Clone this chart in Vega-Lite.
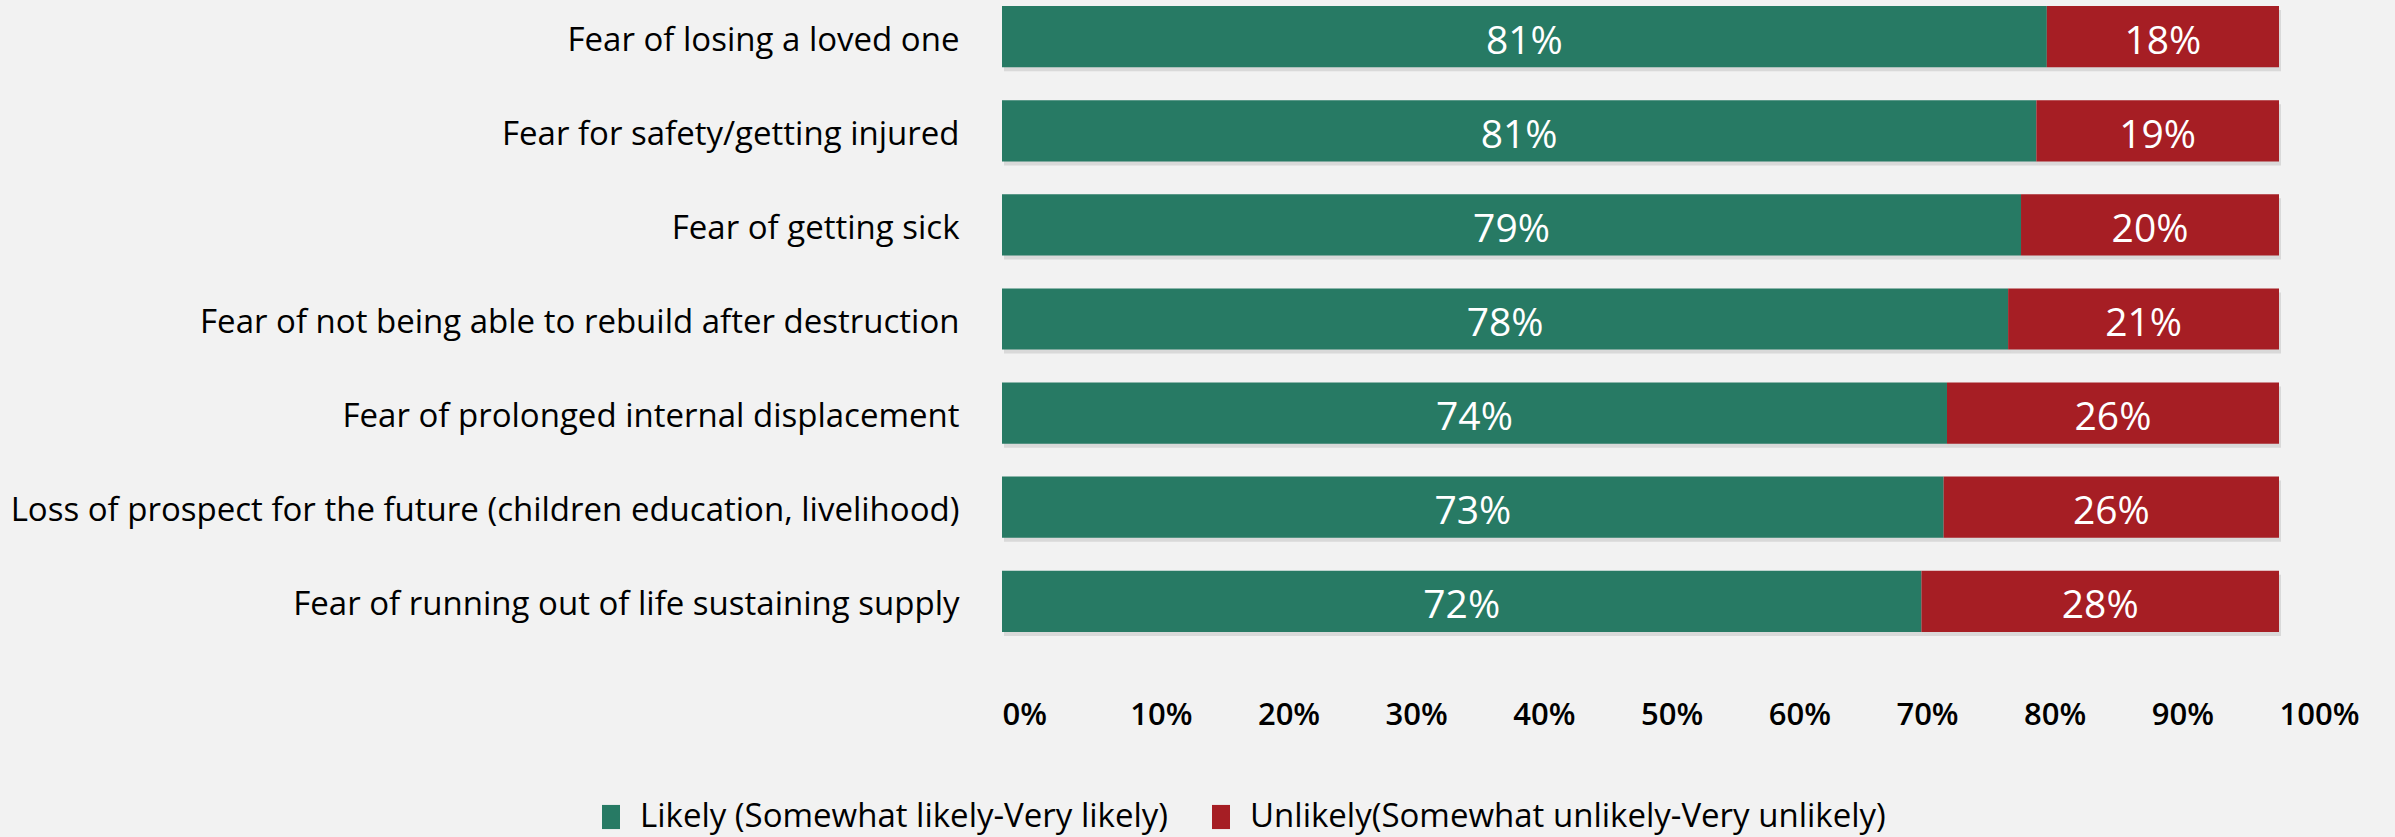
{
  "$schema": "https://vega.github.io/schema/vega-lite/v6.json",
  "width": 1277,
  "height": 638,
  "autosize": "none",
  "padding": {"left": 1002, "top": 0, "right": 116, "bottom": 199},
  "background": "#F2F2F2",
  "config": {
    "view": {"stroke": null},
    "font": "Open Sans",
    "axis": {"labelFont": "Open Sans", "labelColor": "#000000", "labelFontWeight": 500},
    "legend": {"labelFont": "Open Sans", "labelColor": "#000000", "labelFontWeight": 500}
  },
  "data": {
    "values": [
      {"item": "Fear of losing a loved one", "resp": "Likely (Somewhat likely-Very likely)", "o": 1, "v": 0.81},
      {"item": "Fear of losing a loved one", "resp": "Unlikely(Somewhat unlikely-Very unlikely)", "o": 2, "v": 0.18},
      {"item": "Fear for safety/getting injured", "resp": "Likely (Somewhat likely-Very likely)", "o": 1, "v": 0.81},
      {"item": "Fear for safety/getting injured", "resp": "Unlikely(Somewhat unlikely-Very unlikely)", "o": 2, "v": 0.19},
      {"item": "Fear of getting sick", "resp": "Likely (Somewhat likely-Very likely)", "o": 1, "v": 0.79},
      {"item": "Fear of getting sick", "resp": "Unlikely(Somewhat unlikely-Very unlikely)", "o": 2, "v": 0.20},
      {"item": "Fear of not being able to rebuild after destruction", "resp": "Likely (Somewhat likely-Very likely)", "o": 1, "v": 0.78},
      {"item": "Fear of not being able to rebuild after destruction", "resp": "Unlikely(Somewhat unlikely-Very unlikely)", "o": 2, "v": 0.21},
      {"item": "Fear of prolonged internal displacement", "resp": "Likely (Somewhat likely-Very likely)", "o": 1, "v": 0.74},
      {"item": "Fear of prolonged internal displacement", "resp": "Unlikely(Somewhat unlikely-Very unlikely)", "o": 2, "v": 0.26},
      {"item": "Loss of prospect for the future (children education, livelihood)", "resp": "Likely (Somewhat likely-Very likely)", "o": 1, "v": 0.73},
      {"item": "Loss of prospect for the future (children education, livelihood)", "resp": "Unlikely(Somewhat unlikely-Very unlikely)", "o": 2, "v": 0.26},
      {"item": "Fear of running out of life sustaining supply", "resp": "Likely (Somewhat likely-Very likely)", "o": 1, "v": 0.72},
      {"item": "Fear of running out of life sustaining supply", "resp": "Unlikely(Somewhat unlikely-Very unlikely)", "o": 2, "v": 0.28}
    ]
  },
  "encoding": {
    "y": {
      "field": "item",
      "type": "nominal",
      "sort": null,
      "scale": {"paddingInner": 0.35, "paddingOuter": 0.065},
      "axis": {"title": null, "domain": false, "ticks": false, "labelFontSize": 33, "labelPadding": 43, "labelLimit": 1000, "labelOffset": 4}
    }
  },
  "layer": [
    {
      "mark": {"type": "bar", "color": "#808080", "opacity": 0.22, "yOffset": 4, "xOffset": 2},
      "encoding": {
        "x": {"field": "v", "type": "quantitative", "stack": "normalize"},
        "order": {"field": "o"},
        "detail": {"field": "resp"}
      }
    },
    {
      "mark": {"type": "bar"},
      "encoding": {
        "x": {
          "field": "v",
          "type": "quantitative",
          "stack": "normalize",
          "scale": {"domain": [0, 1], "nice": false},
          "axis": {"title": null, "format": ".0%", "values": [0, 0.1, 0.2, 0.3, 0.4, 0.5, 0.6, 0.7, 0.8, 0.9, 1], "grid": false, "domain": false, "ticks": false, "labelAlign": "left", "labelBaseline": "middle", "labelPadding": 77, "labelFontSize": 31, "labelFontWeight": 600, "labelFlush": false}
        },
        "color": {
          "field": "resp",
          "type": "nominal",
          "scale": {"domain": ["Likely (Somewhat likely-Very likely)", "Unlikely(Somewhat unlikely-Very unlikely)"], "range": ["#277A64", "#A61E24"]},
          "legend": {
            "title": null,
            "orient": "none",
            "direction": "horizontal",
            "legendX": -409,
            "legendY": 799,
            "labelFontSize": 33,
            "labelLimit": 1000,
            "symbolType": "M-0.5,-0.67H0.5V0.67H-0.5Z",
            "symbolSize": 1296,
            "symbolOpacity": 1,
            "symbolStrokeWidth": 0,
            "columnPadding": 34,
            "labelOffset": 11
          }
        },
        "order": {"field": "o"}
      }
    },
    {
      "mark": {"type": "text", "color": "#FFFFFF", "fontSize": 39, "fontWeight": 500, "baseline": "middle", "align": "center", "dy": 5},
      "encoding": {
        "x": {"field": "v", "type": "quantitative", "stack": "normalize", "bandPosition": 0.5},
        "text": {"field": "v", "type": "quantitative", "format": ".0%"},
        "detail": {"field": "resp"},
        "order": {"field": "o"}
      }
    }
  ]
}
